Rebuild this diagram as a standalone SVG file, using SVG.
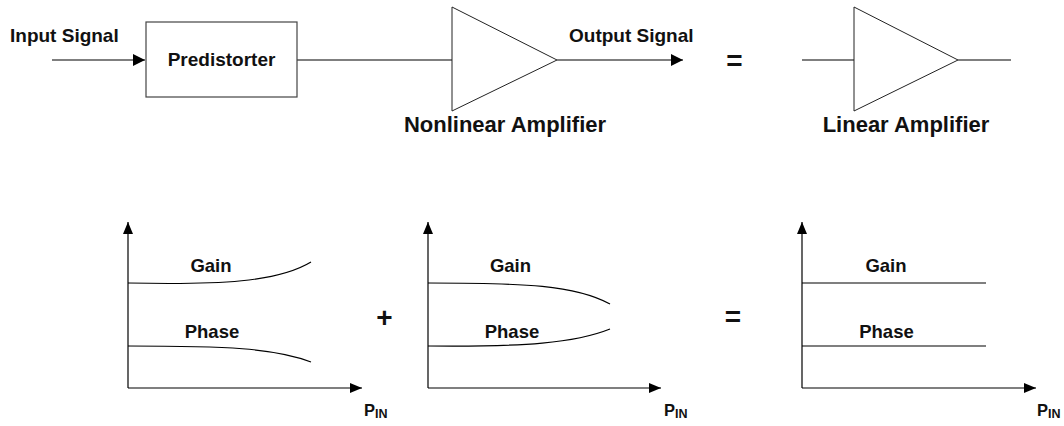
<svg xmlns="http://www.w3.org/2000/svg" width="1064" height="426" viewBox="0 0 1064 426">
<style>
text{font-family:"Liberation Sans",Arial,sans-serif;font-weight:bold;fill:#111}
.lbl{font-size:19px}
.big{font-size:22px}
.gp{font-size:18.5px}
.op{font-size:28px}
.p{font-size:16.5px}
.sub{font-size:12.5px}
.ln{fill:none;stroke:#000;stroke-width:1.2}
.tri{fill:#fff;stroke:#222;stroke-width:1}
</style>
<defs>
<marker id="arr" markerUnits="userSpaceOnUse" markerWidth="12" markerHeight="12" refX="12" refY="6" orient="auto">
<path d="M0,0 L12,6 L0,12 z" fill="#000"/>
</marker>
<marker id="ax" markerUnits="userSpaceOnUse" markerWidth="12" markerHeight="10" refX="12" refY="5" orient="auto">
<path d="M0,0 L12,5 L0,10 z" fill="#000"/>
</marker>
</defs>
<rect width="1064" height="426" fill="#fff"/>
<g id="connectors">
<line class="ln" x1="52" y1="60" x2="145" y2="60" marker-end="url(#arr)"/>
<line class="ln" x1="297" y1="60" x2="452" y2="60"/>
<line class="ln" x1="557" y1="60" x2="683" y2="60" marker-end="url(#arr)"/>
<line class="ln" x1="802" y1="60" x2="854" y2="60"/>
<line class="ln" x1="958" y1="60" x2="1011" y2="60"/>
</g>
<g id="input-label"><text class="lbl" x="10" y="42">Input Signal</text></g>
<g id="predistorter">
<rect x="146" y="22" width="151" height="75" fill="#fff" stroke="#444" stroke-width="1.2"/>
<text class="lbl" x="221.5" y="66" text-anchor="middle">Predistorter</text>
</g>
<g id="nonlinear-amp">
<polygon class="tri" points="452,7 452,111 557,60"/>
<text class="big" x="505" y="132" text-anchor="middle">Nonlinear Amplifier</text>
</g>
<g id="output-label"><text class="lbl" x="569" y="42">Output Signal</text></g>
<g id="eq-top"><text class="op" x="734.5" y="70" text-anchor="middle">=</text></g>
<g id="linear-amp">
<polygon class="tri" points="854,7 854,111 958,60"/>
<text class="big" x="906" y="132" text-anchor="middle">Linear Amplifier</text>
</g>
<g id="chart-predistorter">
<line class="ln" x1="128" y1="388" x2="128" y2="222" marker-end="url(#ax)"/>
<line class="ln" x1="128" y1="388" x2="362" y2="388" marker-end="url(#ax)"/>
<path class="ln" d="M128,283 C220,285 278,282 311,262"/>
<path class="ln" d="M128,346 C225,346 275,348 311,362"/>
<text class="gp" x="211" y="272" text-anchor="middle">Gain</text>
<text class="gp" x="212" y="338" text-anchor="middle">Phase</text>
<text class="p" x="364" y="416">P<tspan class="sub" dy="2">IN</tspan></text>
</g>
<g id="plus"><text class="op" x="384.5" y="327" text-anchor="middle">+</text></g>
<g id="chart-amplifier">
<line class="ln" x1="428" y1="388" x2="428" y2="222" marker-end="url(#ax)"/>
<line class="ln" x1="428" y1="388" x2="661" y2="388" marker-end="url(#ax)"/>
<path class="ln" d="M428,283 C525,283 575,285 610,304"/>
<path class="ln" d="M428,346 C525,347 575,343 610,329"/>
<text class="gp" x="510.5" y="272" text-anchor="middle">Gain</text>
<text class="gp" x="512" y="338" text-anchor="middle">Phase</text>
<text class="p" x="664" y="416">P<tspan class="sub" dy="2">IN</tspan></text>
</g>
<g id="eq-bottom"><text class="op" x="733" y="325.5" text-anchor="middle">=</text></g>
<g id="chart-linear">
<line class="ln" x1="802" y1="388" x2="802" y2="222" marker-end="url(#ax)"/>
<line class="ln" x1="802" y1="388" x2="1036" y2="388" marker-end="url(#ax)"/>
<line class="ln" x1="802" y1="283" x2="986" y2="283"/>
<line class="ln" x1="802" y1="346" x2="986" y2="346"/>
<text class="gp" x="886" y="272" text-anchor="middle">Gain</text>
<text class="gp" x="886.5" y="338" text-anchor="middle">Phase</text>
<text class="p" x="1037" y="416">P<tspan class="sub" dy="2">IN</tspan></text>
</g>
</svg>
